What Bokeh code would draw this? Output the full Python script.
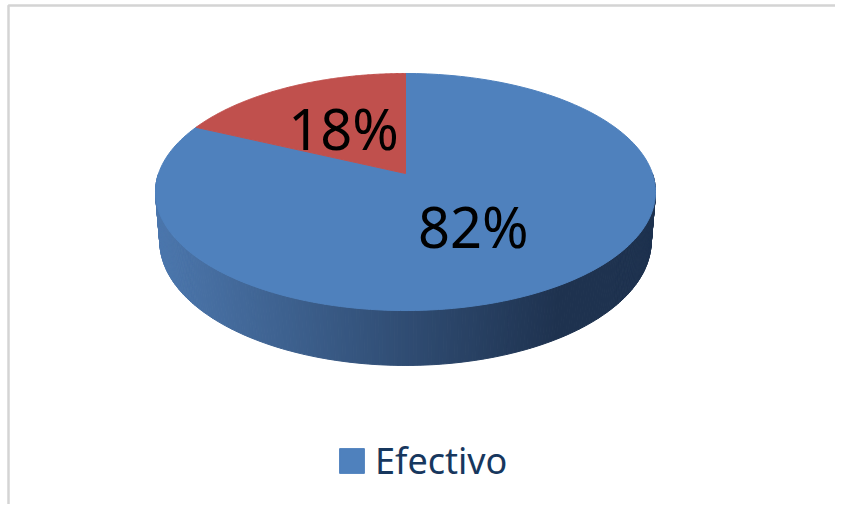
import numpy as np
from bokeh.plotting import figure
from bokeh.models import Range1d, Legend, LegendItem, ColumnDataSource, BoxAnnotation
from bokeh.core.properties import value
from bokeh.embed import file_html
from bokeh.resources import INLINE

# ---- data ----
categories = ["Efectivo", "Otros"]
values = [82, 18]
pct_labels = ["82%", "18%"]
top_colors = ["#4f81bd", "#c0504d"]

# ---- 3D perspective pie geometry (styling) ----
CX, CY = 405.0, 173.0
S, C = 0.451, 0.892
D = 5.71
FX, FY = 1410.0, 1464.0
H = 0.217


def proj(x, z, h):
    v = z * S + h * C
    w = D + z * C - h * S
    return CX + FX * x / w, CY - FY * v / w


total = float(sum(values))
cum = np.concatenate([[0.0], np.cumsum(values)]) / total
starts = np.radians(90.0 - 360.0 * cum[:-1])
ends = np.radians(90.0 - 360.0 * cum[1:])

p = figure(width=835, height=504, output_backend="svg", toolbar_location=None,
           x_range=Range1d(0, 835), y_range=Range1d(504, 0),
           min_border=0, x_axis_location=None, y_axis_location=None)
p.grid.visible = False
p.outline_line_color = None
p.background_fill_color = "white"

# chart-area border (only left & top fall inside the canvas)
p.add_layout(BoxAnnotation(left=8, right=900, top=5, bottom=600,
                           fill_alpha=0, line_color="#707070", line_width=2.5))

# side (front visible wall) of the blue slice, shaded strips
ts = np.radians(np.linspace(180, 360, 241))
xs_side, ys_side, cols = [], [], []
left_c = np.array([76, 119, 173])
right_c = np.array([30, 50, 79])
for i in range(len(ts) - 1):
    t0, t1 = ts[i], ts[i + 1]
    a = proj(np.cos(t0), np.sin(t0), 0)
    b = proj(np.cos(t1), np.sin(t1), 0)
    c2 = proj(np.cos(t1), np.sin(t1), -H)
    d = proj(np.cos(t0), np.sin(t0), -H)
    xs_side.append([a[0], b[0], c2[0], d[0]])
    ys_side.append([a[1], b[1], c2[1], d[1]])
    mx = (a[0] + b[0]) / 2
    u = min(max((mx - 155) / (560 - 155), 0), 1)
    col = left_c + (right_c - left_c) * u
    cols.append("#%02x%02x%02x" % tuple(int(round(k)) for k in col))
p.patches(xs=xs_side, ys=ys_side, fill_color=cols, line_color=cols, line_width=1)

# top faces
renderers = []
for i in range(len(values)):
    tt = np.linspace(starts[i], ends[i], 200)
    px, py = proj(np.cos(tt), np.sin(tt), 0)
    cx0, cy0 = proj(0, 0, 0)
    xs = np.concatenate([[cx0], px])
    ys = np.concatenate([[cy0], py])
    r = p.patch(x=xs, y=ys, fill_color=top_colors[i], line_color=top_colors[i], line_width=1)
    renderers.append(r)

# labels
mids = (starts + ends) / 2
lx, ly = [], []
for m in mids:
    a, b = proj(0.5 * np.cos(m), 0.5 * np.sin(m), 0)
    lx.append(a)
    ly.append(b)
src = ColumnDataSource(dict(x=lx, y=ly, text=pct_labels, dx=[-3, 0]))
p.text(x="x", y="y", text="text", source=src, text_font=value("Noto Sans"),
       text_font_size="56px", text_align="center", text_baseline="middle",
       text_color="black", x_offset="dx")

legend = Legend(items=[LegendItem(label=categories[0], renderers=[renderers[0]])],
                location=(336, 19), orientation="horizontal",
                glyph_width=31, glyph_height=31, label_standoff=8,
                label_text_font="Noto Sans", label_text_font_size="36px",
                label_text_color="#17375e", border_line_color=None,
                background_fill_alpha=0, padding=0, margin=0, label_height=24)
p.add_layout(legend, "center")

open("out.html", "w").write(file_html(p, INLINE))
